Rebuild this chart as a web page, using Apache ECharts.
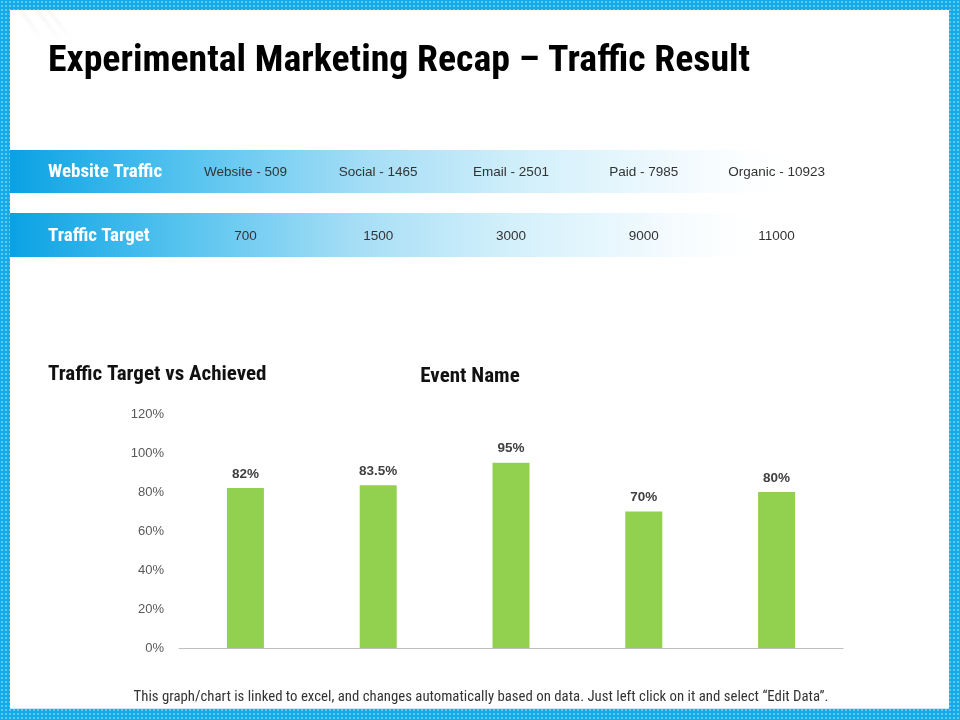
<!DOCTYPE html>
<html>
<head>
<meta charset="utf-8">
<script src="https://cdn.jsdelivr.net/npm/echarts@6/dist/echarts.min.js"></script>
<style>
html, body { margin: 0; padding: 0; }
#main {
    width: 960px; height: 720px;
    background-color: #12ade8;
    background-image: radial-gradient(circle, rgba(255,255,255,0.6) 0.55px, transparent 0.9px);
    background-size: 4px 4px;
}
</style>
</head>
<body>
<div id="main"></div>
<script>
// data
var sources = ['Website', 'Social', 'Email', 'Paid', 'Organic'];
var achieved = [509, 1465, 2501, 7985, 10923];
var targets = [700, 1500, 3000, 9000, 11000];
var percentAchieved = [82, 83.5, 95, 70, 80];

var narrow = "'Liberation Sans Narrow','Arial Narrow','Roboto Condensed',sans-serif";
var regular = "'Liberation Sans',Arial,sans-serif";

var myChart = echarts.init(document.getElementById('main'));

var option = {
    backgroundColor: 'transparent',
    animation: false,
    grid: { left: 179, right: 117, top: 414, bottom: 72 },
    xAxis: {
        type: 'category',
        data: sources,
        axisLine: { lineStyle: { color: '#bfbfbf', width: 1 } },
        axisTick: { show: false },
        axisLabel: { show: false }
    },
    yAxis: {
        type: 'value',
        min: 0, max: 120, interval: 20,
        axisLine: { show: false },
        axisTick: { show: false },
        splitLine: { show: false },
        axisLabel: {
            formatter: '{value}%',
            color: '#595959',
            fontSize: 13,
            fontFamily: regular,
            margin: 15
        }
    },
    series: [{
        type: 'bar',
        data: percentAchieved,
        barWidth: 37,
        itemStyle: { color: '#92d050' },
        label: {
            show: true,
            position: 'top',
            distance: 7,
            formatter: '{c}%',
            color: '#404040',
            fontWeight: 'bold',
            fontSize: 13.5,
            fontFamily: regular
        }
    }]
};
myChart.setOption(option);

// banner rows + texts
function rowGradient() {
    return new echarts.graphic.LinearGradient(0, 0, 1, 0, [
        { offset: 0, color: '#0aa2e4' },
        { offset: 0.22, color: '#55c3ef' },
        { offset: 0.45, color: '#a6def6' },
        { offset: 0.65, color: '#d3f0fb' },
        { offset: 0.82, color: '#eef9fe' },
        { offset: 1, color: 'rgba(255,255,255,0)' }
    ]);
}

// faint light streaks in the top-left corner
function streak(x1, x2, w) {
    return { type: 'polygon', z: -8,
        shape: { points: [[x1, 10], [x1 + w, 10], [x2 + w, 42], [x2, 42]] },
        style: { fill: new echarts.graphic.LinearGradient(0, 0, 0, 1, [
            { offset: 0, color: 'rgba(210,210,210,0.18)' },
            { offset: 1, color: 'rgba(210,210,210,0)' }
        ]) } };
}

var g = [
    { type: 'rect', z: -10, shape: { x: 10, y: 10, width: 939, height: 699 }, style: { fill: '#ffffff' } },
    { type: 'rect', z: -9, shape: { x: 10, y: 708, width: 939, height: 1 }, style: { fill: '#c6ecfa' } },
    streak(18, 40, 6),
    streak(34, 58, 6),
    streak(46, 70, 5),
    { type: 'text', style: { text: 'Experimental Marketing Recap \u2013 Traffic Result', x: 48, y: 62, verticalAlign: 'middle',
        font: 'bold 37.8px ' + narrow, fill: '#000000' } },
    { type: 'rect', z: -5, shape: { x: 10, y: 150, width: 800, height: 43 }, style: { fill: rowGradient() } },
    { type: 'rect', z: -5, shape: { x: 10, y: 213, width: 770, height: 44 }, style: { fill: rowGradient() } },
    { type: 'text', style: { text: 'Website Traffic', x: 48, y: 172, verticalAlign: 'middle',
        font: 'bold 19px ' + narrow, fill: '#ffffff' } },
    { type: 'text', style: { text: 'Traffic Target', x: 48, y: 236, verticalAlign: 'middle',
        font: 'bold 19px ' + narrow, fill: '#ffffff' } },
    { type: 'text', style: { text: 'Traffic Target vs Achieved', x: 48, y: 375, verticalAlign: 'middle',
        font: 'bold 21px ' + narrow, fill: '#111111' } },
    { type: 'text', style: { text: 'Event Name', x: 470, y: 377, align: 'center', verticalAlign: 'middle',
        font: 'bold 21px ' + narrow, fill: '#111111' } },
    { type: 'text', style: { text: 'This graph/chart is linked to excel, and changes automatically based on data. Just left click on it and select \u201cEdit Data\u201d.',
        x: 481, y: 697, align: 'center', verticalAlign: 'middle', font: '14.8px ' + narrow, fill: '#333333' } }
];

sources.forEach(function (s, i) {
    var cx = myChart.convertToPixel({ xAxisIndex: 0 }, s);
    g.push({ type: 'text', style: { text: s + ' - ' + achieved[i], x: cx, y: 172, align: 'center', verticalAlign: 'middle',
        font: '13.5px ' + regular, fill: '#333333' } });
    g.push({ type: 'text', style: { text: String(targets[i]), x: cx, y: 236, align: 'center', verticalAlign: 'middle',
        font: '13.5px ' + regular, fill: '#333333' } });
});

myChart.setOption({ graphic: g });
</script>
</body>
</html>
